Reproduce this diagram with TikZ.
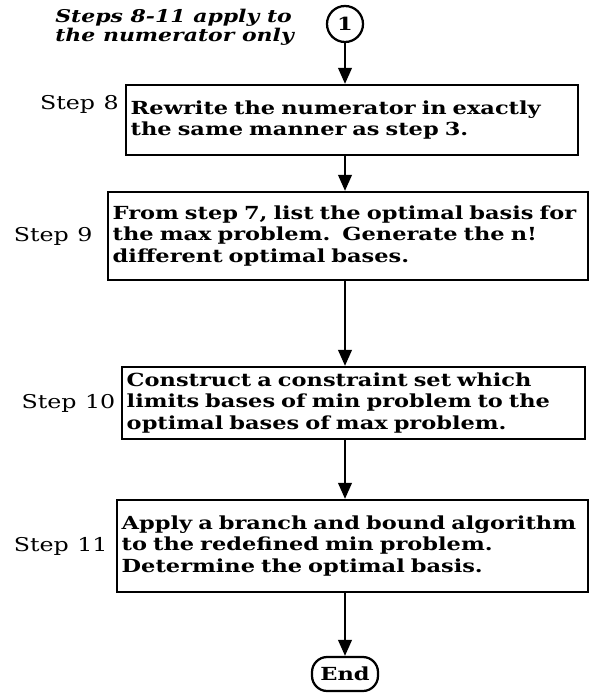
\documentclass[tikz,border=0pt]{standalone}
\usepackage{fontspec}
\usepackage{tikz}
\usetikzlibrary{positioning, arrows.meta, shapes.geometric}
\newfontfamily\boxfont[FakeStretch=1.25]{DejaVu Serif}
\newcommand{\bxsize}{\fontsize{12.8}{15.2}\selectfont}

\begin{document}
\begin{tikzpicture}[
  x=0.025cm, y=-0.025cm,
  every node/.style={font=\boxfont\bxsize},
  stepbox/.style={
    rectangle, draw=black, line width=1.6pt,
    inner xsep=0.12cm, inner ysep=2pt, align=left, font=\boxfont\bfseries\bxsize,
  },
  lbl/.style={font=\boxfont\fontsize{13.5}{14}\selectfont, inner sep=0pt},
  term/.style={draw=black, line width=1.6pt, font=\boxfont\bfseries\bxsize},
  arr/.style={-{Triangle[length=4mm,width=3.4mm]}, draw=black, line width=1.5pt},
]
  \useasboundingbox (0,0) rectangle (591,696);

  \node[font=\boxfont\bfseries\itshape\fontsize{12.5}{13.2}\selectfont, align=left, anchor=west, inner sep=0pt]
    (note) at (55,27) {Steps 8-11 apply to\\the numerator only};
  \node[term, circle, minimum size=0.9cm, inner sep=0pt] (one) at (345,24) {1};

  \node[stepbox, minimum width=11.3cm, minimum height=1.75cm, text width=11.06cm] (s8) at (352,120)
    {Rewrite the numerator in exactly\\the same manner as step 3.};
  \node[stepbox, minimum width=12cm, minimum height=2.2cm, text width=11.76cm] (s9) at (348,236)
    {From step 7, list the optimal basis for\\the max problem.\ \ Generate the n!\\different optimal bases.};
  \node[stepbox, minimum width=11.575cm, minimum height=1.8cm, text width=11.335cm] (s10) at (353.5,403)
    {Construct a constraint set which\\limits bases of min problem to the\\optimal bases of max problem.};
  \node[stepbox, minimum width=11.775cm, minimum height=2.3cm, text width=11.535cm] (s11) at (352.5,546)
    {Apply a branch and bound algorithm\\to the redefined min problem.\\Determine the optimal basis.};
  \node[term, rounded corners=0.38cm, minimum width=1.65cm, minimum height=0.85cm] (end) at (345,674) {End};

  \node[lbl, anchor=east] (l8) at (119,104) {Step\hspace{0.45em}8};
  \node[lbl, left=3.5mm of s9] (l9) {Step\hspace{0.45em}9};
  \node[lbl, left=1.3mm of s10] (l10) {Step\hspace{0.45em}10};
  \node[lbl, left=2mm of s11] (l11) {Step\hspace{0.45em}11};

  \draw[arr] (one) -- (s8.north -| one);
  \draw[arr] (s8.south -| one) -- (s9.north -| one);
  \draw[arr] (s9.south -| one) -- (s10.north -| one);
  \draw[arr] (s10.south -| one) -- (s11.north -| one);
  \draw[arr] (s11.south -| one) -- (end);
\end{tikzpicture}
\end{document}
